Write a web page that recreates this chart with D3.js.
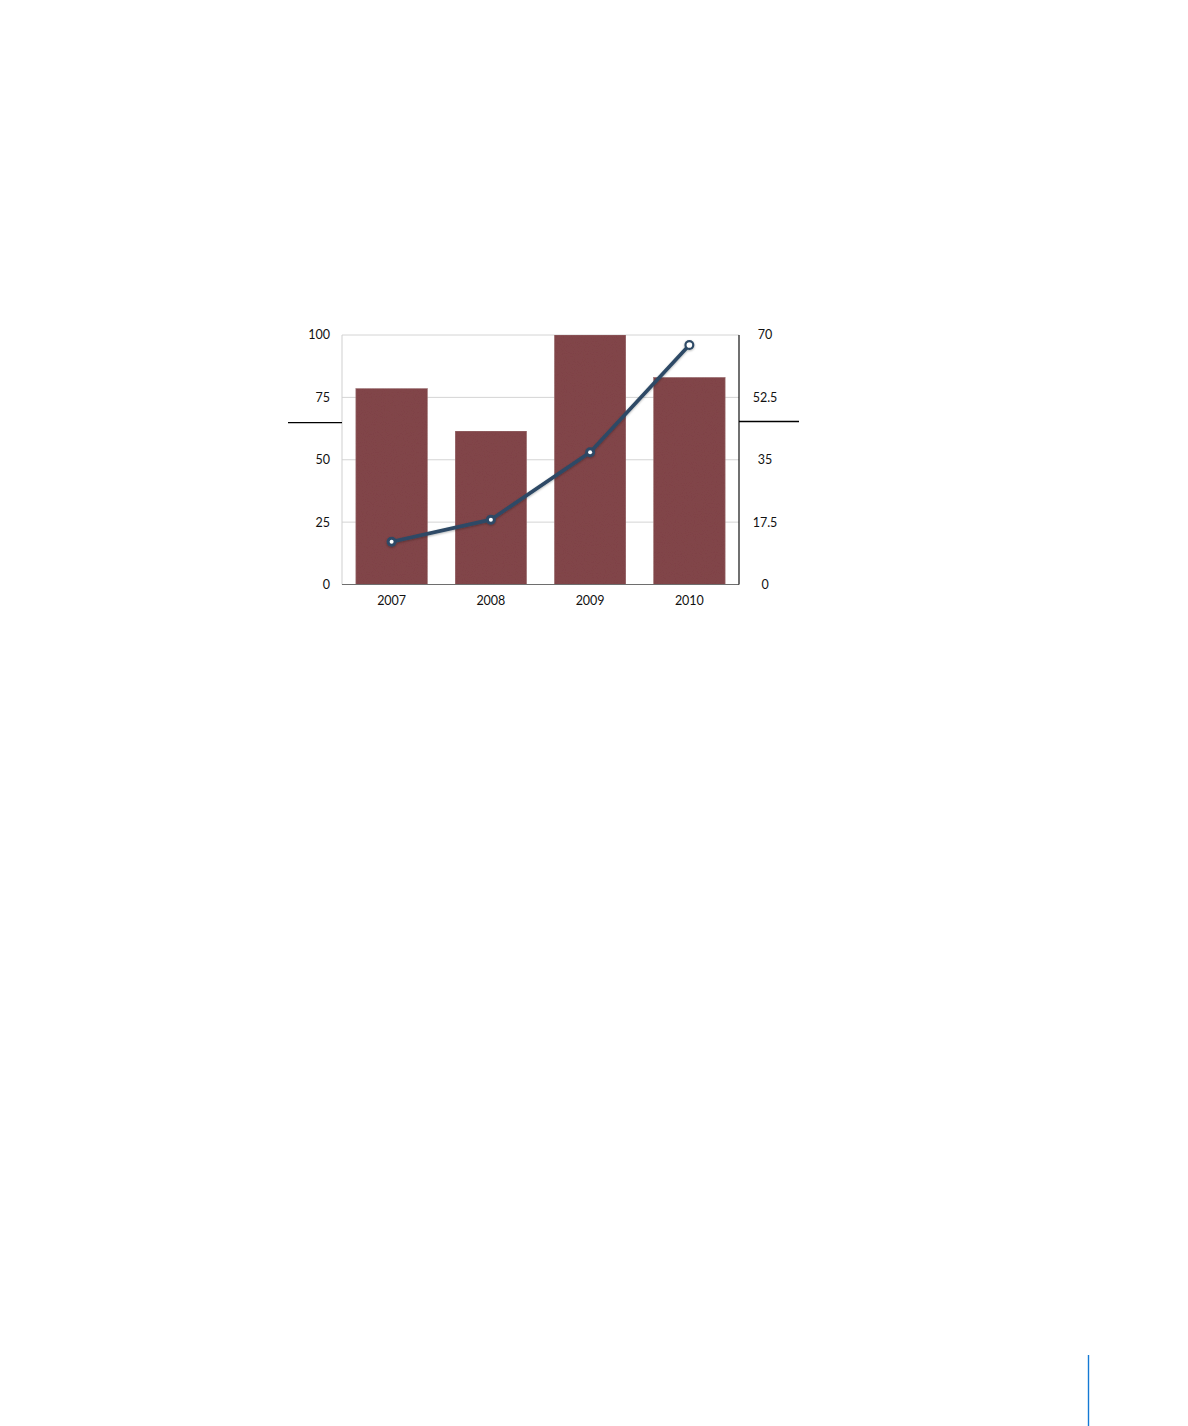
<!DOCTYPE html>
<html>
<head>
<meta charset="utf-8">
<script src="https://cdn.jsdelivr.net/npm/d3@7"></script>
<style>
html,body{margin:0;padding:0;background:#fff;}
svg{display:block;}
text{font-family:Lato,"Open Sans",sans-serif;font-size:12.5px;fill:#111;}
</style>
</head>
<body>
<svg id="chart" width="1188" height="1426"></svg>
<script>
const years = ["2007","2008","2009","2010"];
const barValues = [78.5, 61.5, 100, 83];
const lineValues = [12, 18.2, 37.1, 67.2];
const leftTicks = [0, 25, 50, 75, 100];
const rightTicks = [0, 17.5, 35, 52.5, 70];

const svg = d3.select("#chart");
const L = 342, R = 739, T = 335, B = 584.5;

const x = d3.scaleBand().domain(years).range([L, R]).paddingInner(0.28).paddingOuter(0.14);
const yL = d3.scaleLinear().domain([0, 100]).range([B, T]);
const yR = d3.scaleLinear().domain([0, 70]).range([B, T]);

const defs = svg.append("defs");
const f = defs.append("filter").attr("id","paper").attr("x","0").attr("y","0").attr("width","1").attr("height","1");
f.append("feTurbulence").attr("type","fractalNoise").attr("baseFrequency","0.9").attr("numOctaves","2").attr("seed","3").attr("result","noise");
f.append("feColorMatrix").attr("in","noise").attr("type","matrix")
  .attr("values","0 0 0 0 0  0 0 0 0 0  0 0 0 0 0  0 0 0 0.1 0").attr("result","dark");
f.append("feComposite").attr("in","dark").attr("in2","SourceGraphic").attr("operator","in").attr("result","tex");
const m = f.append("feMerge");
m.append("feMergeNode").attr("in","SourceGraphic");
m.append("feMergeNode").attr("in","tex");

const sh = defs.append("filter").attr("id","shadow").attr("x","-20%").attr("y","-20%").attr("width","140%").attr("height","140%");
sh.append("feDropShadow").attr("dx","0").attr("dy","1").attr("stdDeviation","1").attr("flood-color","#000").attr("flood-opacity","0.3");

// gridlines
svg.append("g").selectAll("line").data(leftTicks.filter(d => d > 0)).join("line")
  .attr("x1", L).attr("x2", R).attr("y1", d => yL(d)).attr("y2", d => yL(d))
  .attr("stroke", "#d4d4d4").attr("stroke-width", 1);
// left frame line
svg.append("line").attr("x1", L).attr("x2", L).attr("y1", T).attr("y2", B)
  .attr("stroke", "#cfcfcf").attr("stroke-width", 1);

// bars
svg.append("g").selectAll("rect").data(years).join("rect")
  .attr("x", d => x(d)).attr("width", x.bandwidth())
  .attr("y", (d, i) => yL(barValues[i])).attr("height", (d, i) => B - yL(barValues[i]))
  .attr("fill", "#84474b").attr("filter", "url(#paper)")
  .attr("stroke", "#a07376").attr("stroke-width", 0.6);

// bottom axis line
svg.append("line").attr("x1", L).attr("x2", R).attr("y1", B).attr("y2", B)
  .attr("stroke", "#6e6e6e").attr("stroke-width", 1);
// right axis line
svg.append("line").attr("x1", R).attr("x2", R).attr("y1", T).attr("y2", B)
  .attr("stroke", "#111").attr("stroke-width", 1.2);

// side black lines
svg.append("line").attr("x1", 288).attr("x2", L).attr("y1", 422.7).attr("y2", 422.7).attr("stroke", "#000").attr("stroke-width", 1.3);
svg.append("line").attr("x1", R).attr("x2", 799).attr("y1", 421.5).attr("y2", 421.5).attr("stroke", "#000").attr("stroke-width", 1.3);

// left tick labels
svg.append("g").selectAll("text").data(leftTicks).join("text")
  .attr("x", 330).attr("y", d => yL(d)).attr("dy", "0.35em").attr("text-anchor", "end")
  .text(d => d);
// right tick labels
svg.append("g").selectAll("text").data(rightTicks).join("text")
  .attr("x", 765).attr("y", d => yR(d)).attr("dy", "0.35em").attr("text-anchor", "middle")
  .text(d => d);
// x labels
svg.append("g").selectAll("text").data(years).join("text")
  .attr("x", d => x(d) + x.bandwidth() / 2).attr("y", 605).attr("text-anchor", "middle")
  .text(d => d);

// line
const cx = (d, i) => x(years[i]) + x.bandwidth() / 2;
const lineGen = d3.line().x((d, i) => cx(d, i)).y(d => yR(d));
const lg = svg.append("g").attr("filter", "url(#shadow)");
lg.append("path").datum(lineValues).attr("d", lineGen)
  .attr("fill", "none").attr("stroke", "#2d4a66").attr("stroke-width", 3.6).attr("stroke-linejoin", "round");
lg.selectAll("circle.o").data(lineValues).join("circle").attr("class", "o")
  .attr("cx", cx).attr("cy", d => yR(d))
  .attr("r", 5)
  .attr("fill", "#2d4a66");
lg.selectAll("circle.i").data(lineValues).join("circle").attr("class", "i")
  .attr("cx", cx).attr("cy", d => yR(d))
  .attr("r", (d, i) => i === lineValues.length - 1 ? 2.8 : 2)
  .attr("fill", "#fff");

// page marker line bottom right
svg.append("line").attr("x1", 1088.5).attr("x2", 1088.5).attr("y1", 1355).attr("y2", 1426)
  .attr("stroke", "#1479d4").attr("stroke-width", 1.4);
</script>
</body>
</html>
